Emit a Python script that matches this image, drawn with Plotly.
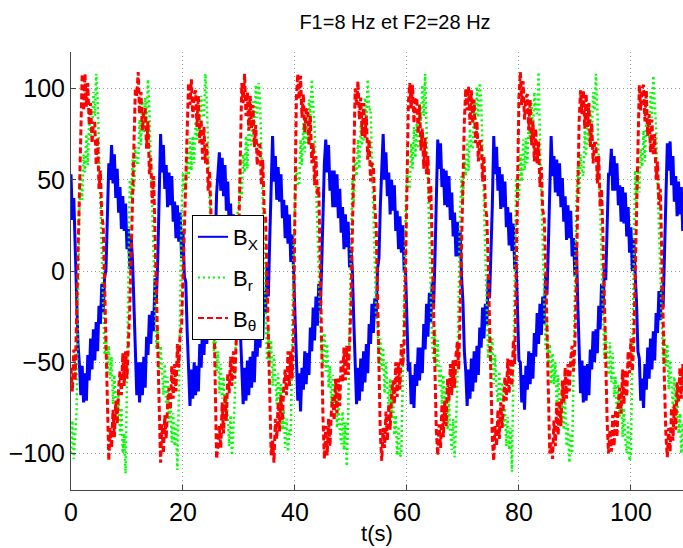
import numpy as np
import plotly.graph_objects as go

DT = 0.25

# B_X (blue, solid) read every 0.25 s from t = 0 to 110 s, one row per 5 s
bx = [
    53, 28, 40, 12, -10, -40, -51, -68, -52, -72, -56, -71, -46, -60, -37, -54, -32, -49, -28, -44,
    -19, -29, -7, -23, -4, 1, 30, 59, 50, 69, 48, 64, 40, 56, 32, 46, 23, 41, 22, 37,
    12, 23, 1, 19, 5, -22, -49, -68, -50, -72, -50, -68, -47, -64, -36, -46, -24, -40, -22, -33,
    -4, -16, 7, 36, 75, 54, 69, 45, 58, 35, 54, 36, 52, 27, 38, 18, 36, 16, 32, 7,
    22, -3, -6, -33, -53, -74, -54, -70, -50, -68, -52, -66, -40, -53, -29, -46, -24, -40, -20, -35,
    -8, -18, 5, 13, 42, 55, 65, 44, 62, 41, 58, 33, 49, 24, 37, 13, 31, 11, 24, -1,
    -6, -33, -55, -73, -53, -71, -49, -68, -47, -64, -44, -61, -35, -47, -25, -42, -24, -37, -11, -23,
    3, -14, 18, 47, 74, 49, 63, 39, 57, 38, 53, 29, 39, 18, 36, 15, 31, 5, 20, 0,
    -27, -55, -71, -56, -77, -53, -65, -44, -62, -45, -57, -31, -44, -20, -38, -14, -30, -7, -22, 1,
    30, 59, 72, 54, 69, 44, 55, 35, 55, 35, 53, 29, 45, 21, 35, 12, 31, 13, 27, 2,
    13, 0, -27, -55, -73, -53, -71, -48, -66, -44, -61, -40, -56, -29, -40, -18, -34, -15, -26, 1,
    7, 36, 58, 75, 50, 65, 41, 54, 31, 50, 33, 47, 22, 33, 12, 30, 10, 25, 0, 0,
    -27, -55, -50, -73, -57, -75, -51, -63, -42, -60, -42, -56, -29, -43, -18, -36, -12, -28, -6, -21,
    7, 36, 72, 56, 70, 46, 56, 36, 55, 35, 52, 28, 43, 19, 32, 8, 27, 8, 22, -3,
    -17, -44, -55, -74, -54, -70, -48, -66, -44, -61, -41, -57, -31, -42, -20, -37, -18, -30, -3, -15,
    7, 36, 74, 53, 68, 44, 57, 34, 53, 35, 49, 24, 35, 14, 32, 11, 26, 1, 5, -22,
    -49, -50, -72, -57, -76, -52, -65, -44, -62, -45, -59, -34, -47, -23, -40, -18, -35, -14, -29, -2,
    -13, 13, 42, 74, 52, 63, 43, 61, 41, 59, 35, 51, 27, 41, 17, 36, 18, 33, 8, 18,
    -3, 15, -17, -44, -67, -49, -72, -52, -71, -51, -68, -43, -54, -33, -50, -32, -45, -19, -32, -7,
    -23, 1, -5, 24, 53, 53, 67, 44, 63, 44, 59, 36, 47, 27, 46, 26, 43, 19, 35, 10,
    24, 0, 18, -1, -17, -44, -48, -71, -59, -75, -51, -65, -42, -59, -37, -54, -33, -49, -23, -34,
    -11, -27, -8, -20, 7, 36, 70, 55, 71, 47, 63, 38, 52, 30, 49, 31, 46, 22, 32, 12,
    31,
]

# B_r (green, dotted)
br = [
    -100, -82, -103, -87, -76, -17, 33, 53, 39, 64, 54, 75, 58, 83, 73, 73, 98, 85, 108, 94,
    66, 38, 10, -18, -46, -35, -57, -41, -59, -47, -73, -57, -75, -84, -67, -90, -75, -100, -89, -111,
    -59, -8, 50, 40, 61, 44, 68, 59, 58, 83, 69, 93, 76, 95, 81, 105, 89, 61, 33, 4,
    -24, -43, -31, -57, -41, -59, -68, -51, -73, -58, -83, -72, -94, -78, -96, -84, -109, -70, -19, 32,
    54, 43, 41, 66, 51, 73, 55, 74, 59, 82, 72, 91, 73, 96, 86, 84, 108, 94, 66, 38,
    10, -18, -44, -29, -55, -44, -67, -51, -70, -58, -83, -68, -86, -96, -79, -101, -87, -70, -19, 32,
    36, 55, 40, 64, 54, 74, 56, 80, 70, 69, 93, 79, 102, 84, 103, 94, 66, 38, 10, -18,
    -49, -32, -50, -38, -63, -46, -64, -73, -56, -77, -62, -87, -76, -97, -81, -99, -87, -90, -39, 12,
    33, 57, 47, 47, 72, 58, 81, 65, 84, 70, 94, 85, 105, 88, 78, 49, 21, -7, -26, -43,
    -52, -34, -55, -40, -64, -52, -74, -57, -74, -62, -86, -69, -87, -95, -77, -98, -83, -107, -80, -29,
    22, 51, 37, 61, 52, 72, 56, 80, 70, 70, 95, 82, 105, 88, 89, 61, 33, 4, -24, -31,
    -53, -37, -54, -42, -67, -50, -68, -77, -59, -81, -66, -90, -79, -101, -85, -102, -100, -49, 2, 32,
    56, 46, 45, 70, 56, 79, 62, 81, 67, 92, 82, 102, 85, 108, 78, 49, 21, -7, -40, -49,
    -32, -53, -38, -63, -52, -73, -57, -75, -63, -87, -71, -89, -98, -81, -102, -87, -59, -8, 33, 52,
    38, 62, 52, 72, 55, 78, 68, 67, 92, 78, 101, 84, 103, 94, 66, 38, 10, -18, -48, -32,
    -50, -37, -62, -46, -64, -72, -55, -77, -61, -86, -75, -96, -80, -98, -86, -110, -59, -8, 51, 41,
    39, 64, 49, 72, 55, 73, 59, 83, 72, 92, 75, 98, 88, 86, 109, 72, 44, 16, -13, -43,
    -27, -52, -40, -62, -45, -62, -50, -74, -57, -75, -83, -66, -87, -71, -96, -84, -105, -89, -100, -49,
    2, 37, 57, 40, 64, 54, 52, 77, 63, 86, 69, 88, 74, 98, 88, 108, 89, 61, 33, 4,
    -24, -48, -31, -49, -57, -39, -61, -45, -69, -58, -79, -62, -80, -67, -91, -75, -92, -100, -83, -104,
    -100, -49, 2, 55, 38, 57, 43, 67, 57, 77, 60, 84, 74, 73, 98, 84, 107, 90, 78, 49,
    21, -7, -29, -51, -35, -52, -40, -65, -49, -66, -75, -58, -80, -64, -89, -78, -100, -83, -101, -89,
    -111,
]

# B_theta (red, dashed)
btheta = [
    -53, -66, -43, -60, -24, 8, 40, 72, 108, 88, 108, 90, 103, 80, 92, 70, 81, 81, 58, 73,
    45, 55, 30, 25, -10, -45, -78, -104, -86, -97, -76, -91, -71, -84, -64, -55, -68, -45, -63, -44,
    -59, -42, -20, 10, 40, 70, 100, 96, 109, 86, 98, 77, 88, 89, 67, 82, 53, 62, 37, 52,
    20, -15, -55, -88, -105, -84, -100, -79, -92, -73, -64, -76, -52, -70, -51, -66, -40, -53, -34, -30,
    -2, 25, 52, 78, 103, 91, 105, 84, 96, 99, 79, 96, 70, 83, 61, 79, 59, 70, 44, 55,
    31, 25, -15, -58, -103, -96, -85, -97, -72, -89, -68, -82, -56, -67, -47, -63, -44, -59, -41, -20,
    25, 65, 103, 92, 108, 85, 98, 77, 96, 78, 91, 68, 80, 58, 69, 69, 47, 61, 33, 30,
    0, -35, -70, -101, -93, -105, -81, -92, -72, -88, -68, -82, -63, -54, -68, -44, -63, -44, -59, -35,
    35, 95, 108, 94, 107, 84, 97, 76, 88, 89, 69, 85, 59, 70, 47, 63, 42, 46, 5, -40,
    -80, -103, -85, -101, -81, -96, -77, -69, -82, -59, -78, -59, -74, -49, -61, -42, -60, -41, -57, -40,
    -20, 20, 62, 100, 91, 104, 83, 95, 74, 92, 73, 85, 61, 72, 49, 59, 58, 35, 25, -15,
    -55, -90, -104, -86, -97, -77, -93, -73, -87, -68, -60, -73, -50, -69, -50, -65, -40, -52, -40, -5,
    45, 92, 103, 89, 102, 81, 93, 95, 75, 91, 66, 78, 56, 73, 53, 63, 37, 47, 15, -25,
    -60, -88, -101, -84, -97, -73, -91, -71, -85, -59, -71, -51, -68, -49, -64, -46, -39, -54, -20, 15,
    50, 82, 100, 88, 101, 80, 99, 81, 94, 70, 82, 60, 71, 71, 49, 63, 35, 30, 5, -30,
    -65, -92, -104, -85, -96, -76, -92, -72, -86, -67, -58, -71, -48, -67, -48, -63, -38, -51, -5, 45,
    95, 109, 91, 104, 83, 95, 97, 77, 94, 69, 82, 60, 78, 59, 71, 46, 57, 33, 30, 5,
    -35, -70, -100, -94, -103, -82, -96, -72, -90, -71, -85, -60, -72, -53, -70, -51, -66, -48, -41, -55,
    -40, -5, 40, 82, 99, 86, 99, 78, 97, 79, 92, 68, 81, 59, 70, 70, 48, 63, 35, 45,
    20, -15, -50, -82, -100, -87, -99, -79, -96, -76, -91, -72, -64, -78, -54, -73, -54, -69, -44, -56,
    -37, -55, -40, -5, 40, 82, 102, 88, 100, 102, 82, 99, 74, 86, 65, 83, 64, 75, 50, 60,
    36, 45, 15, -25, -62, -90, -102, -86, -99, -75, -93, -73, -87, -61, -72, -53, -70, -51, -66, -48,
    -41,
]

x_ticks = [0, 20, 40, 60, 80, 100]
y_ticks = [-100, -50, 0, 50, 100]
x_range = [0, 109.3]
y_range = [-120, 120]

names = ["B<sub>X</sub>", "B<sub>r</sub>", "B<sub>θ</sub>"]
colors = ["#0000ff", "#00ff00", "#ff0000"]
dashes = ["solid", "2px,3px", "6px,3px"]
data_widths = [3, 2.5, 3]

FONT = "Liberation Sans, Arial, Helvetica, sans-serif"

fig = go.Figure()
# data curves (drawn in order blue, green, red so red stays on top)
for vals, col, dsh, w in zip([bx, br, btheta], colors, dashes, data_widths):
    t = np.arange(len(vals)) * DT
    fig.add_trace(go.Scatter(x=t, y=vals, mode="lines", showlegend=False,
                             line=dict(color=col, width=w, dash=dsh), hoverinfo="skip"))
# legend entries with the thin line samples of the reference
for i, (nm, col, dsh) in enumerate(zip(names, colors, dashes)):
    fig.add_trace(go.Scatter(x=[None], y=[None], mode="lines", name=nm,
                             line=dict(color=col, width=2, dash=dsh),
                             legendgroup=f"g{i}", hoverinfo="skip"))

axis_common = dict(
    showline=True, linecolor="#444444", linewidth=1, mirror=False,
    ticks="inside", ticklen=5, tickcolor="#444444", tickwidth=1,
    showgrid=True, gridcolor="#9a9a9a", gridwidth=1, griddash="1px,3px",
    zeroline=False, tickfont=dict(size=25, family=FONT, color="black"),
)

fig.update_layout(
    width=683, height=548, autosize=False,
    margin=dict(l=71, r=0, t=52, b=58),
    paper_bgcolor="white", plot_bgcolor="white",
    font=dict(family=FONT, size=22, color="black"),
    title=dict(text="F1=8 Hz et F2=28 Hz", x=395 / 683, xanchor="center", xref="container",
               y=1 - 22 / 548, yanchor="middle", yref="container",
               font=dict(size=20, family=FONT, color="black")),
    showlegend=True,
    legend=dict(x=(192 - 71) / 612, y=(490 - 215) / 438, xanchor="left", yanchor="top",
                bordercolor="black", borderwidth=1, bgcolor="white",
                font=dict(size=22, family=FONT, color="black"),
                traceorder="grouped", tracegroupgap=9, itemwidth=30),
)
fig.update_xaxes(range=x_range, tickvals=x_ticks, **axis_common,
                 title=dict(text="t(s)", font=dict(size=22, family=FONT), standoff=0))
fig.update_yaxes(range=y_range, tickvals=y_ticks, **axis_common)

fig.write_html("out.html", config={"displayModeBar": False},
               post_script="document.body.style.margin='0';")
